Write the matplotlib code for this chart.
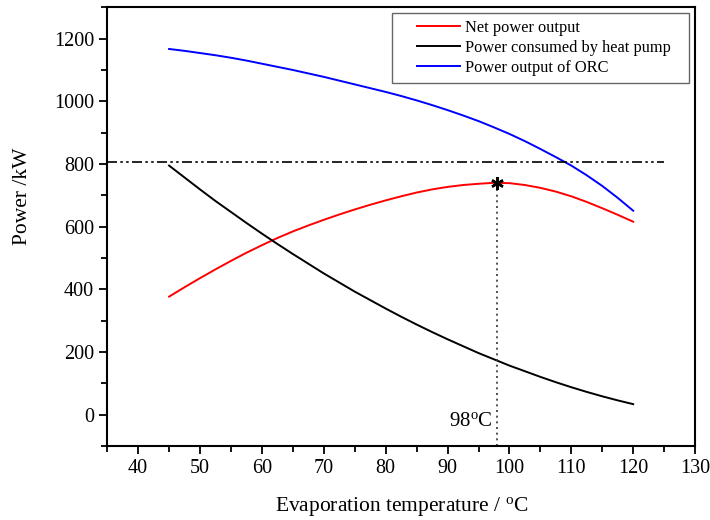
import matplotlib
matplotlib.use("Agg")
import matplotlib.pyplot as plt
from matplotlib.patches import Rectangle
from matplotlib.ticker import MultipleLocator

# evaporation temperature (C)
temp = [45, 47.5, 50, 52.5, 55, 57.5, 60, 62.5, 65, 67.5, 70, 72.5, 75, 77.5, 80, 82.5,
        85, 87.5, 90, 92.5, 95, 97.5, 100, 102.5, 105, 107.5, 110, 112.5, 115, 117.5, 120]

net_power = [377, 407, 436, 464, 491, 517, 541, 564, 585, 604, 622, 639, 655, 670, 684, 697,
             709, 719, 727, 733, 737, 740, 739, 733, 724, 712, 697, 679, 659, 638, 616]
pump_power = [795, 757, 719, 682, 647, 612, 578, 545, 513, 482, 451, 422, 393, 366, 339, 313,
              288, 264, 241, 219, 197, 177, 157, 139, 121, 104, 88, 73, 59, 46, 34]
orc_power = [1167, 1161, 1154, 1147, 1139, 1130, 1120, 1110, 1100, 1089, 1078, 1066, 1054,
             1042, 1030, 1017, 1003, 988, 972, 955, 937, 917, 896, 873, 848, 822, 795, 764,
             730, 692, 651]

opt_temp = 98
opt_power = 741
ref_level = 805
ref_span = [35, 125]

plt.rcParams["font.family"] = ["Liberation Serif", "DejaVu Serif"]
plt.rcParams["mathtext.fontset"] = "custom"
plt.rcParams["mathtext.rm"] = "Liberation Serif"
plt.rcParams["mathtext.it"] = "Liberation Serif:italic"

fig = plt.figure(figsize=(7.1, 5.2), dpi=100)
ax = fig.add_axes([0.151, 0.142, 0.828, 0.844])

ax.plot(temp, net_power, color="red", lw=1.4, label="Net power output")
ax.plot(temp, pump_power, color="black", lw=1.4, label="Power consumed by heat pump")
ax.plot(temp, orc_power, color="blue", lw=1.4, label="Power output of ORC")

ax.plot(ref_span, [ref_level, ref_level], color="black", lw=1.2,
        dashes=(6, 2, 1.5, 2, 1.5, 2))
ax.plot([opt_temp, opt_temp], [-100, opt_power], color="#333333", lw=1.2,
        linestyle=(0, (1.2, 2.2)))
ax.plot(opt_temp, opt_power, marker=(6, 2, 0), ms=9, mew=1.8, color="black")
ax.text(opt_temp - 0.7, -22, r"98$^{\rm o}$C", ha="right", va="center", fontsize=15)

ax.set_xlim(35, 130)
ax.set_ylim(-100, 1300)
ax.xaxis.set_minor_locator(MultipleLocator(5))
ax.yaxis.set_minor_locator(MultipleLocator(100))
ax.set_xticks(range(40, 131, 10))
ax.set_yticks(range(0, 1201, 200))

ax.tick_params(which="both", direction="out", top=False, right=False, width=1.3)
ax.tick_params(which="major", length=6, labelsize=14.5)
ax.tick_params(which="minor", length=4)
for s in ax.spines.values():
    s.set_linewidth(1.5)

ax.set_xlabel(r"Evaporation temperature / $^{\rm o}$C", fontsize=15.5)
ax.xaxis.set_label_coords(0.5, -0.112)
ax.set_ylabel("Power /kW", fontsize=15.5)
ax.yaxis.set_label_coords(-0.128, 0.57)

leg = ax.legend(loc="upper left", bbox_to_anchor=(0.527, 0.972), fontsize=11.8,
                frameon=False, handlelength=2.6, borderpad=0, borderaxespad=0,
                labelspacing=0.25, handletextpad=0.35)

fig.canvas.draw()
bb = leg.get_window_extent()
inv = fig.transFigure.inverted()
x0, y0 = inv.transform((bb.x0 - 25, bb.y0 - 7))
x1, y1 = inv.transform((bb.x1 + 18, bb.y1 + 7))
fig.patches.append(Rectangle((x0, y0), x1 - x0, y1 - y0, transform=fig.transFigure,
                             fill=False, edgecolor="#666666", lw=1.0))

fig.savefig("out.png", dpi=100)
